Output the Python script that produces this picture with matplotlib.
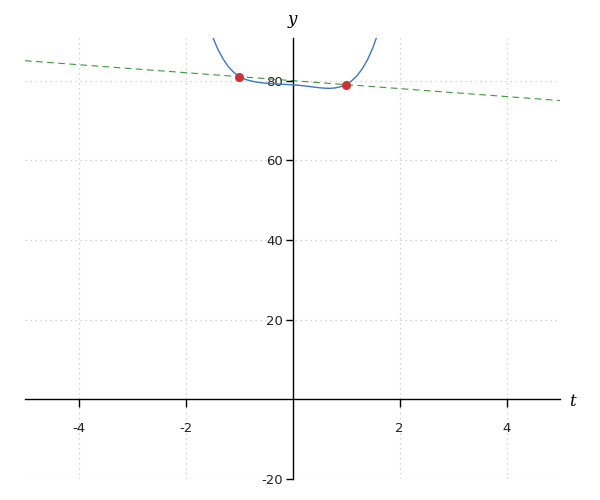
import matplotlib
matplotlib.use("Agg")
import matplotlib.pyplot as plt

plt.rcParams["axes.unicode_minus"] = False

# curve (t, y)
curve_t = [-1.5, -1.4, -1.3, -1.2, -1.1, -1.0, -0.9, -0.8, -0.7, -0.6, -0.5,
           -0.4, -0.3, -0.2, -0.1, 0.0, 0.1, 0.2, 0.3, 0.4, 0.5, 0.6, 0.7,
           0.8, 0.9, 1.0, 1.1, 1.2, 1.3, 1.4, 1.5, 1.6]
curve_y = [91.2, 88.0, 85.5, 83.5, 82.1, 81.0, 80.4, 80.0, 79.7, 79.5, 79.35,
           79.25, 79.17, 79.1, 79.03, 78.95, 78.85, 78.72, 78.55, 78.38, 78.22, 78.1, 78.06,
           78.17, 78.47, 79.0, 79.87, 81.14, 82.89, 85.2, 88.19, 91.94]

# secant line through the two marked points
line_t = [-5, 5]
line_y = [85, 75]

pts_t = [-1, 1]
pts_y = [81, 79]

xticks = [-4, -2, 2, 4]
yticks = [-20, 20, 40, 60, 80]

fig = plt.figure(figsize=(6, 5), dpi=100)
ax = fig.add_axes([25 / 600, 1 - 479 / 500, 535 / 600, 441 / 500])
ax.set_xlim(-5, 5)
ax.set_ylim(-20, 90.7)

ax.plot(line_t, line_y, color="#3a9a3a", lw=0.8, ls=(0, (6, 4)), zorder=2)
ax.plot(curve_t, curve_y, color="#3b78c3", lw=1.0, zorder=3)
ax.plot(pts_t, pts_y, "o", color="#cc3333", ms=5.5, zorder=4)

ax.spines["left"].set_position(("data", 0))
ax.spines["bottom"].set_position(("data", 0))
ax.spines["top"].set_visible(False)
ax.spines["right"].set_visible(False)
for s in ("left", "bottom"):
    ax.spines[s].set_linewidth(1.0)
    ax.spines[s].set_color("black")

ax.set_xticks(xticks)
ax.set_yticks(yticks)
ax.tick_params(axis="x", direction="out", length=6, width=1, pad=10,
               labelsize=9.5, labelcolor="#222222")
ax.tick_params(axis="y", direction="out", length=5, width=1, pad=2,
               labelsize=9.5, labelcolor="#222222")

ax.grid(True, color="#c8c8c8", ls=(0, (1, 3)), lw=0.9)
ax.set_axisbelow(True)

ax.text(292 / 600, 1 - 20 / 500, "y", transform=fig.transFigure, ha="center", va="center",
        family="DejaVu Serif", style="italic", fontsize=12)
ax.text(572 / 600, 1 - 402 / 500, "t", transform=fig.transFigure, ha="center", va="center",
        family="DejaVu Serif", style="italic", fontsize=12)

fig.savefig("out.png", dpi=100)
